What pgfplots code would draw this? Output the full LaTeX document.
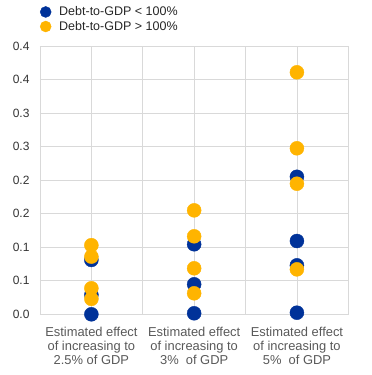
\documentclass[border=0pt]{standalone}
\usepackage{fontspec}
\setmainfont{Liberation Sans}
\usepackage{pgfplots}
\pgfplotsset{compat=1.18}
\definecolor{ecbblue}{HTML}{003299}
\definecolor{ecbyellow}{HTML}{FFB400}
\definecolor{gridgray}{HTML}{D9D9D9}
\definecolor{labgray}{HTML}{595959}
\definecolor{tickdark}{HTML}{333333}
\begin{document}
\begin{tikzpicture}
\begin{axis}[
  scale only axis,
  width=308.3pt, height=268.3pt,
  xmin=-0.5, xmax=2.5,
  ymin=0, ymax=0.4,
  xtick={0,1,2},
  minor xtick={-0.5,0.5,1.5,2.5},
  xticklabels={{Estimated effect\\of increasing to\\2.5\% of GDP},{Estimated effect\\of increasing to\\3\%\ \ of GDP},{Estimated effect\\of increasing to\\5\%\ \ of GDP}},
  xticklabel style={align=center, font=\fontsize{12.9}{14.4}\selectfont, text=labgray, yshift=-9pt},
  ytick={0,0.05,0.1,0.15,0.2,0.25,0.3,0.35,0.4},
  yticklabels={0.0,0.1,0.1,0.2,0.2,0.3,0.3,0.4,0.4},
  yticklabel style={font=\fontsize{12}{14}\selectfont, text=tickdark, xshift=-7pt},
  major tick length=0pt, minor tick length=0pt,
  xmajorgrids, xminorgrids, ymajorgrids,
  grid style={gridgray, line width=0.8pt},
  minor grid style={gridgray, line width=0.8pt},
  axis line style={gridgray, line width=0.8pt},
  clip=false,
  legend style={at={(0,1)}, anchor=south west, xshift=-1pt, yshift=11pt,
    draw=none, fill=none, font=\fontsize{12.5}{14}\selectfont, text=black!85,
    row sep=0pt, inner sep=1pt},
  legend cell align=left,
  legend image code/.code={\draw[#1, only marks, mark size=5.5pt] plot coordinates {(0pt,0pt)};},
]
\addplot[only marks, mark=*, mark size=7pt, color=ecbblue] coordinates {
  (0,0.081) (0,0.029) (0,0.0)
  (1,0.1044) (1,0.0447) (1,0.0015)
  (2,0.205) (2,0.1093) (2,0.073) (2,0.0024)
};
\addlegendentry{\hspace{6pt}Debt-to-GDP < 100\%}
\addplot[only marks, mark=*, mark size=7pt, color=ecbyellow] coordinates {
  (0,0.103) (0,0.086) (0,0.0388) (0,0.023)
  (1,0.155) (1,0.1163) (1,0.0686) (1,0.0313)
  (2,0.3608) (2,0.2475) (2,0.1947) (2,0.067)
};
\addlegendentry{\hspace{6pt}Debt-to-GDP > 100\%}
\end{axis}
\pgfresetboundingbox
\path[use as bounding box] (-40pt,-60.7pt) rectangle (332pt,314.3pt);
\end{tikzpicture}
\end{document}
